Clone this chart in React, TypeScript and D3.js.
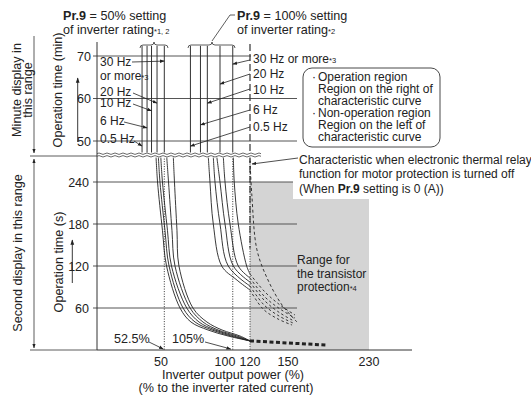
import React from 'react';
import * as d3 from 'd3';

const W = 531;
const H = 397;
const FONT = '"Liberation Sans", Arial, Helvetica, sans-serif';

// x axis: inverter output power (%), drawn piecewise like the original sheet
const xBreaks = [0, 50, 100, 120, 150, 230];
const xTicks = [50, 100, 120, 150, 230];
const secTicks = [60, 120, 180, 240];
const minTicks = [50, 60, 70];

// minute range: the near-vertical part of every curve (% values)
const minLines50 = [35.2, 39.1, 42.6, 46.9, 52.5];
const minLines100 = [72.3, 79.9, 85.1, 94.7, 105.0];
const hzLabels = ['0.5 Hz', '6 Hz', '10 Hz', '20 Hz', '30 Hz or more'];
const arrowMin50 = [48.8, 53.1, 57.1, 58.9, 68.8];
const arrowMin100 = [48.8, 53.8, 58.9, 63.4, 68.1];

// second range: [%, s]
const curves50 = [
  [[46.1, 277], [47.3, 240], [51.1, 171], [54.2, 120], [64.4, 60], [72.7, 40], [85.6, 28.6], [100.9, 20], [120, 13]],
  [[47.9, 277], [49.2, 240], [53.0, 171], [56.1, 120], [66.7, 60], [75.8, 40], [88.6, 28.6], [103.5, 20], [120, 13]],
  [[49.8, 277], [51.1, 240], [54.9, 171], [57.95, 120], [69.5, 60], [78.8, 40], [90.9, 28.6], [106.1, 20], [120, 13]],
  [[54.3, 277], [55.7, 240], [58.3, 171], [60.6, 120], [72.0, 60], [81.8, 40], [93.2, 28.6], [108.7, 20], [120, 13]],
  [[59.3, 277], [60.2, 240], [62.1, 171], [63.6, 120], [74.2, 60], [84.8, 40], [96.2, 28.6], [111.3, 20], [120, 13]],
];
const curves100 = [
  [[85.8, 277], [87.1, 240], [89.6, 180], [96.0, 120], [107.8, 101], [120, 85.7]],
  [[89.6, 277], [90.9, 240], [94.7, 180], [101.1, 120], [120, 91.4]],
  [[92.2, 277], [94.7, 240], [98.5, 180], [105.5, 120], [120, 97.1]],
  [[97.2, 277], [98.5, 240], [102.6, 180], [109.8, 120], [120, 102.9]],
  [[105.5, 277], [106.3, 240], [109.8, 180], [117.1, 120], [120, 108.6]],
];
const dashed100 = [
  [[120, 85.7], [130.3, 58.6], [142.1, 44.3], [154.0, 35.7]],
  [[120, 91.4], [131.1, 64.3], [142.9, 48.6], [154.9, 38.6]],
  [[120, 97.1], [131.8, 70], [143.7, 52.9], [155.9, 41.4]],
  [[120, 102.9], [131.8, 75.7], [143.7, 58.6], [156.9, 45.7]],
  [[120, 108.6], [131.8, 82.9], [143.7, 64.3], [156.9, 50]],
];
const offCurve = [[120, 271], [121.5, 220], [125.5, 143], [134.2, 100], [145.3, 64.3], [158.9, 40]];
const stopLine = [[120, 13], [188, 7]];
const refLines = [52.5, 105, 120];

export default function App() {
  const x = d3.scaleLinear().domain(xBreaks).range([97, 161, 227, 250, 288, 369]);
  const yS = d3.scaleLinear().domain([0, 240]).range([350, 182]);
  const yM = d3.scaleLinear().domain([50, 70]).range([141, 56]);

  const line = d3.line<number[]>()
    .x(d => x(d[0]))
    .y(d => yS(d[1]))
    .curve(d3.curveCatmullRom.alpha(0.5));

  const axisX = x(0);
  const gridEnd = 297;
  const breakY = 155;

  // wavy break line
  let wave1 = `M${axisX},${breakY - 1.3}`;
  let wave2 = `M${axisX},${breakY + 1.3}`;
  for (let i = 0, px = axisX; px < 258; i++, px += 4) {
    const d = i % 2 === 0 ? -1.4 : 1.4;
    wave1 += ` q2,${d} 4,0`;
    wave2 += ` q2,${d} 4,0`;
  }

  const txt = { fontFamily: FONT, fontSize: 12.6, fill: '#222' } as const;
  const note = { fontFamily: FONT, fontSize: 12, fill: '#222' } as const;
  const hz = { fontFamily: FONT, fontSize: 12, fill: '#222' } as const;
  const tick = { fontFamily: FONT, fontSize: 12.5, fill: '#222' } as const;
  const small = { fontSize: 7.5 } as const;

  const labels50 = [
    { tx: 100, ty: 143, ax: 134, ay: 141 },
    { tx: 100, ty: 125, ax: 124, ay: 122 },
    { tx: 100, ty: 107, ax: 133, ay: 104 },
    { tx: 100, ty: 96, ax: 133, ay: 93 },
    { tx: 100, ty: 66, ax: 132, ay: 62 },
  ];
  const labels100 = [
    { tx: 253, ty: 131, ax: 250, ay: 127 },
    { tx: 253, ty: 114, ax: 250, ay: 110 },
    { tx: 253, ty: 94, ax: 250, ay: 89 },
    { tx: 253, ty: 78, ax: 250, ay: 74 },
    { tx: 253, ty: 63, ax: 250, ay: 60 },
  ];

  return (
    <svg width={W} height={H} style={{ position: 'absolute', left: 0, top: 0, background: '#fff' }}>
      <defs>
        <marker id="ah" viewBox="0 0 10 10" refX="9" refY="5" markerWidth="6" markerHeight="6"
          orient="auto-start-reverse">
          <path d="M0,1.5 L10,5 L0,8.5 Z" fill="#222" />
        </marker>
      </defs>

      {/* transistor protection range */}
      <rect x={x(120)} y={yS(240)} width={x(230) - x(120)} height={yS(0) - yS(240)} fill="#d4d4d4" />

      {/* gridlines, seconds */}
      {secTicks.map(t => (
        <line key={'s' + t} x1={axisX - 4} x2={gridEnd} y1={yS(t)} y2={yS(t)} stroke="#555" strokeWidth={1} />
      ))}
      {secTicks.map(t => (
        <text key={'st' + t} x={axisX - 8} y={yS(t) + 4.5} textAnchor="end" {...tick}>{t}</text>
      ))}
      {/* gridlines, minutes */}
      {minTicks.map(m => (
        <line key={'m' + m} x1={axisX - 4} x2={m === 70 ? 251 : gridEnd} y1={yM(m)} y2={yM(m)}
          stroke="#555" strokeWidth={1} />
      ))}
      {minTicks.map(m => (
        <text key={'mt' + m} x={axisX - 6} y={yM(m) + 4.5} textAnchor="end" {...tick}>{m}</text>
      ))}

      {/* white patch behind the relay note */}
      <rect x={293} y={150} width={238} height={49} fill="#fff" />

      {/* axes */}
      <line x1={axisX} x2={axisX} y1={42} y2={350} stroke="#333" />
      <line x1={axisX} x2={412} y1={350} y2={350} stroke="#333" />
      {xTicks.map(v => (
        <text key={'xt' + v} x={x(v) + (v === 100 ? -2 : 0)} y={366} textAnchor="middle" {...tick}>{v}</text>
      ))}
      <text x={233} y={379} textAnchor="middle" {...txt}>Inverter output power (%)</text>
      <text x={226} y={392} textAnchor="middle" {...txt}>(% to the inverter rated current)</text>

      {/* reference dotted lines */}
      {refLines.map(v => (
        <line key={'r' + v} x1={x(v)} x2={x(v)} y1={yS(277)} y2={yS(0)} stroke="#333"
          strokeWidth={1} strokeDasharray="1,1.5" />
      ))}
      <line x1={x(120)} x2={x(120)} y1={44} y2={breakY - 2} stroke="#333" strokeWidth={1.2} strokeDasharray="7,3" />
      <line x1={x(120)} x2={x(120)} y1={yS(277)} y2={yS(145)} stroke="#333" strokeWidth={1.2} strokeDasharray="7,3" />

      {/* minute range vertical lines */}
      {minLines50.concat(minLines100).map((v, i) => (
        <line key={'ml' + i} x1={x(v)} x2={x(v)} y1={yM(72.4)} y2={breakY} stroke="#333" strokeWidth={1} />
      ))}

      {/* curves in second range */}
      {curves50.map((c, i) => (
        <path key={'c5' + i} d={line(c) || ''} fill="none" stroke="#222" strokeWidth={0.9} />
      ))}
      {curves100.map((c, i) => (
        <path key={'c1' + i} d={line(c) || ''} fill="none" stroke="#222" strokeWidth={0.9} />
      ))}
      {dashed100.map((c, i) => (
        <path key={'d1' + i} d={line(c) || ''} fill="none" stroke="#222" strokeWidth={0.9} strokeDasharray="2.5,2.5" />
      ))}
      <path d={line(offCurve) || ''} fill="none" stroke="#222" strokeWidth={0.9} strokeDasharray="3,2.5" />
      <path d={line(stopLine) || ''} fill="none" stroke="#222" strokeWidth={3} strokeDasharray="4,2.5" />

      {/* break */}
      <rect x={axisX + 1} y={breakY - 2.5} width={162} height={5} fill="#fff" />
      <path d={wave1} fill="none" stroke="#444" strokeWidth={0.8} />
      <path d={wave2} fill="none" stroke="#444" strokeWidth={0.8} />

      {/* Hz labels, 50% */}
      {labels50.map((l, i) => (
        <g key={'l5' + i}>
          <text x={l.tx} y={l.ty} {...hz}>{i === 4 ? '30 Hz' : hzLabels[i]}</text>
          <line x1={l.ax} y1={l.ay} x2={x(minLines50[i])} y2={yM(arrowMin50[i])} stroke="#222"
            strokeWidth={0.8} markerEnd="url(#ah)" />
        </g>
      ))}
      <text x={100} y={80} {...hz}>or more<tspan {...small}>*3</tspan></text>

      {/* Hz labels, 100% */}
      {labels100.map((l, i) => (
        <g key={'l1' + i}>
          <text x={l.tx} y={l.ty} {...hz}>{hzLabels[i]}{i === 4 ? <tspan {...small}>*3</tspan> : null}</text>
          <line x1={l.ax} y1={l.ay} x2={x(minLines100[i])} y2={yM(arrowMin100[i])} stroke="#222"
            strokeWidth={0.8} markerEnd="url(#ah)" />
        </g>
      ))}

      {/* top captions */}
      <text x={63} y={20} {...txt}><tspan fontWeight="bold">Pr.9</tspan> = 50% setting</text>
      <text x={63} y={34} {...txt}>of inverter rating<tspan {...small}>*1, 2</tspan></text>
      <path d="M140,48 q0,-3 3,-3 L151,45 q3,0 3,-3 q0,3 3,3 L165,45 q3,0 3,3" fill="none" stroke="#333" strokeWidth={0.8} />
      <text x={237} y={20} {...txt}><tspan fontWeight="bold">Pr.9</tspan> = 100% setting</text>
      <text x={237} y={34} {...txt}>of inverter rating<tspan {...small}>*2</tspan></text>
      <path d="M188,48 q0,-3 3,-3 L209,45 q3,0 3,-3 q0,3 3,3 L232,45 q3,0 3,3" fill="none" stroke="#333" strokeWidth={0.8} />
      <polyline points="212,41 230,15 235,15" fill="none" stroke="#333" strokeWidth={0.8} />

      {/* region note box */}
      <rect x={303} y={68} width={137} height={79} rx={9} fill="#fff" stroke="#333" strokeWidth={0.9} />
      <text x={312} y={81} {...note}>·</text>
      <text x={312} y={117} {...note}>·</text>
      <text {...note}>
        <tspan x={318} y={81}>Operation region</tspan>
        <tspan x={318} y={93}>Region on the right of</tspan>
        <tspan x={318} y={105}>characteristic curve</tspan>
        <tspan x={318} y={117}>Non-operation region</tspan>
        <tspan x={318} y={129}>Region on the left of</tspan>
        <tspan x={318} y={141}>characteristic curve</tspan>
      </text>

      {/* relay off note */}
      <line x1={298} y1={158} x2={252} y2={164} stroke="#222" strokeWidth={0.8} markerEnd="url(#ah)" />
      <text x={299} y={164} {...note}>Characteristic when electronic thermal relay</text>
      <text x={299} y={178} {...note}>function for motor protection is turned off</text>
      <text x={299} y={193} {...note}>(When <tspan fontWeight="bold">Pr.9</tspan> setting is 0 (A))</text>

      <text x={297} y={264} {...note}>Range for</text>
      <text x={297} y={278} {...note}>the transistor</text>
      <text x={297} y={291} {...note}>protection<tspan {...small}>*4</tspan></text>

      {/* 52.5% / 105% */}
      <text x={114} y={343} {...txt}>52.5%</text>
      <line x1={149} y1={342} x2={x(52.5) - 1} y2={349} stroke="#222" strokeWidth={0.8} markerEnd="url(#ah)" />
      <text x={172} y={343} {...txt}>105%</text>
      <line x1={205} y1={342} x2={x(105) - 2} y2={349} stroke="#222" strokeWidth={0.8} markerEnd="url(#ah)" />

      {/* left side annotations */}
      <line x1={34} x2={34} y1={36} y2={153} stroke="#333" strokeWidth={0.8} markerEnd="url(#ah)" />
      <line x1={34} x2={34} y1={159} y2={348} stroke="#333" strokeWidth={0.8} markerStart="url(#ah)" markerEnd="url(#ah)" />
      <line x1={30} x2={axisX} y1={156} y2={156} stroke="#333" strokeWidth={0.8} />
      <line x1={30} x2={axisX} y1={350} y2={350} stroke="#333" strokeWidth={0.8} />
      <text transform="translate(20.5,90) rotate(-90)" textAnchor="middle" {...txt}>Minute display in</text>
      <text transform="translate(31.5,90) rotate(-90)" textAnchor="middle" {...txt}>this range</text>
      <text transform="translate(22,253) rotate(-90)" textAnchor="middle" {...txt}>Second display in this range</text>
      <text transform="translate(62,90) rotate(-90)" textAnchor="middle" {...txt}>Operation time (min)</text>
      <text transform="translate(63,262) rotate(-90)" textAnchor="middle" {...txt}>Operation time (s)</text>
      <line x1={77.7} x2={77.7} y1={142} y2={78} stroke="#222" strokeWidth={0.9} markerEnd="url(#ah)" />
      <line x1={72.3} x2={72.3} y1={283} y2={240} stroke="#222" strokeWidth={0.9} markerEnd="url(#ah)" />
    </svg>
  );
}
